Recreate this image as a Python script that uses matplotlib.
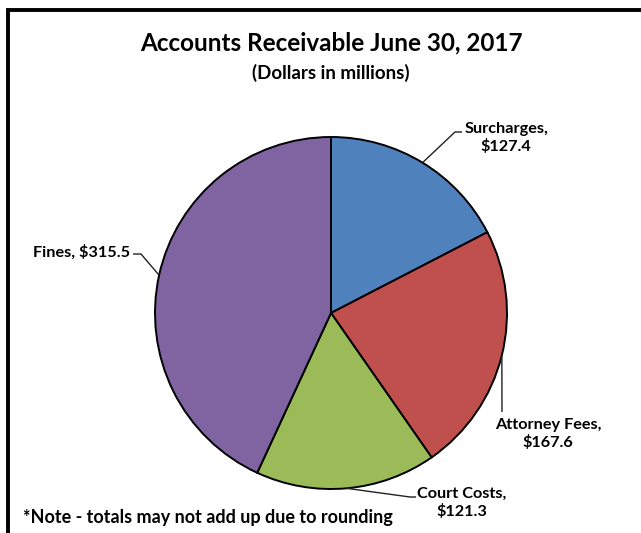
import matplotlib
matplotlib.use('Agg')
import matplotlib.pyplot as plt
import numpy as np

categories = ['Surcharges', 'Attorney Fees', 'Court Costs', 'Fines']
values = [127.4, 167.6, 121.3, 315.5]
colors = ['#4F81BD', '#C0504D', '#9BBB59', '#8064A2']
label_text = ['Surcharges,\n$127.4', 'Attorney Fees,\n$167.6', 'Court Costs,\n$121.3', 'Fines, $315.5']
title = 'Accounts Receivable June 30, 2017'
subtitle = '(Dollars in millions)'
note = '*Note - totals may not add up due to rounding'

plt.rcParams['font.family'] = ['Lato', 'DejaVu Sans']

W, H = 641, 533
fig = plt.figure(figsize=(W / 100, H / 100), dpi=100)
ax = fig.add_axes([0, 0, 1, 1])


def Y(y):
    return H - y


cx, cy, r = 331, Y(313), 176
wedges, _ = ax.pie(values, colors=colors, startangle=90, counterclock=False,
                   center=(cx, cy), radius=r,
                   wedgeprops=dict(edgecolor='black', linewidth=1.4))
ax.set_xlim(0, W)
ax.set_ylim(0, H)
ax.axis('off')

# leader elbows (image pixel coords) and label placement
layouts = [
    dict(path=[(455, 132), (462, 132)], xy=(506, 138), ha='center'),
    dict(path=[(502, 412)], xy=(548, 434), ha='center'),
    dict(path=[(410, 497), (416, 497)], xy=(462, 502.5), ha='center'),
    dict(path=[(141, 254), (133, 254)], xy=(130, 252), ha='right'),
]

for w, txt, lay in zip(wedges, label_text, layouts):
    th = np.deg2rad((w.theta1 + w.theta2) / 2)
    ex = cx + r * np.cos(th)
    ey = cy + r * np.sin(th)
    xs = [ex] + [p[0] for p in lay['path']]
    ys = [ey] + [Y(p[1]) for p in lay['path']]
    ax.plot(xs, ys, color='#222222', lw=1.0, solid_capstyle='butt')
    ax.text(lay['xy'][0], Y(lay['xy'][1]), txt, ha=lay['ha'], va='center',
            multialignment='center', fontsize=11.7, fontweight='bold',
            linespacing=1.25, color='black')

ax.text(331, Y(43), title, ha='center', va='center', fontsize=17.5, fontweight='bold')
ax.text(331, Y(73), subtitle, ha='center', va='center', fontsize=13.5, fontweight='bold')
ax.text(23, Y(517), note, ha='left', va='center', fontsize=13, fontweight='bold')

# outer frame (extends beyond right/bottom edges)
ax.plot([8, 8, W + 10], [Y(H + 10), Y(10), Y(10)], color='black', lw=2.8,
        clip_on=False, solid_joinstyle='miter')

fig.savefig('out.png', dpi=100)
